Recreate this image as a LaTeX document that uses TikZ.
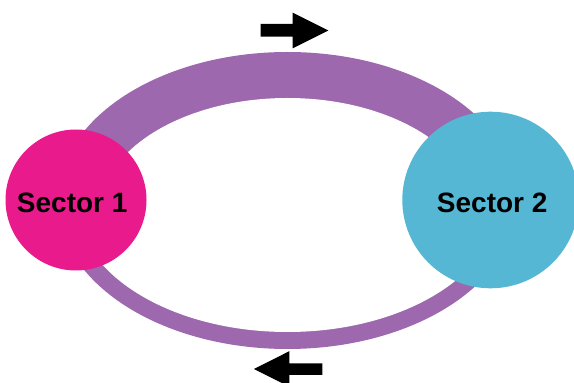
\documentclass[tikz,border=0pt]{standalone}
\usepackage{fontspec}
\setmainfont{Liberation Sans}
\definecolor{ringpurple}{HTML}{9D68AE}
\definecolor{secpink}{HTML}{E91A8C}
\definecolor{seccyan}{HTML}{55B7D3}
\begin{document}
\begin{tikzpicture}[x=1pt,y=1pt,
  sector/.style={circle,inner sep=0pt,draw=none},
  label text/.style={font=\fontsize{28}{30}\selectfont\bfseries,text=black,inner sep=0pt},
  flowarrow/.style={fill=black,draw=none}]
\useasboundingbox (0,0) rectangle (574,383);
\clip (0,0) rectangle (574,383);
% ring
\fill[ringpurple] (287.5,182.5) ellipse[x radius=230,y radius=148.5];
\fill[white] (98.5,168) arc[start angle=180,end angle=0,x radius=189,y radius=117]
  -- (499.5,182.5) arc[start angle=0,end angle=-180,x radius=212,y radius=131.5] -- cycle;
% sectors
\node[sector,fill=secpink,minimum size=141pt] (s1) at (76,183) {};
\node[sector,fill=seccyan,minimum size=176.6pt] (s2) at (490.6,183) {};
\node[label text] (t1) at (72.2,180.5) {Sector 1};
\node[label text] (t2) at (492.2,180.5) {Sector 2};
% arrows
\fill[flowarrow] (260.7,346.3) -- (260.7,359) -- (292.7,359) -- (292.7,370.3)
  -- (328.3,352.5) -- (292.7,334.7) -- (292.7,346.3) -- cycle;
\fill[flowarrow] (322.3,8) -- (322.3,19.7) -- (289.3,19.7) -- (289.3,31.8)
  -- (254,14) -- (289.3,-3.8) -- (289.3,8) -- cycle;
\end{tikzpicture}
\end{document}
